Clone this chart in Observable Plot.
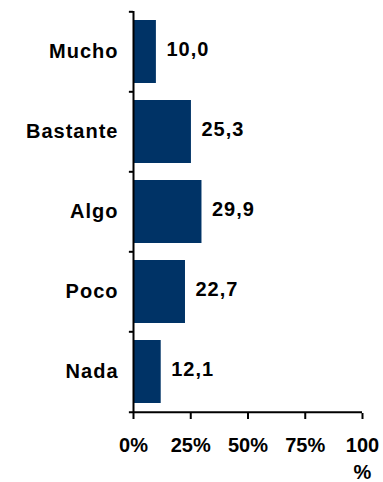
<!DOCTYPE html>
<html><head><meta charset="utf-8">
<script src="https://cdn.jsdelivr.net/npm/d3@7"></script>
<script src="https://cdn.jsdelivr.net/npm/@observablehq/plot@0.6"></script>
<style>body{margin:0;background:#fff}
g[aria-label="y-axis tick label"] text, g[aria-label="text"] text {letter-spacing:1px}
</style>
</head><body><div id="chart"></div>
<script>
const categories = ["Mucho", "Bastante", "Algo", "Poco", "Nada"];
const values = [10.0, 25.3, 29.9, 22.7, 12.1];
const xTicks = [0, 25, 50, 75, 100];
const xTickLabels = ["0%", "25%", "50%", "75%", "100\n%"];

const data = categories.map((c, i) => ({cat: c, value: values[i]}));

const W = 383, H = 482, mTop = 11, mBottom = 69, mLeft = 133, mRight = 21;
const step = (H - mTop - mBottom) / categories.length;
const font = "'Liberation Sans', Arial, Helvetica, sans-serif";

const chart = Plot.plot({
  width: W, height: H,
  marginLeft: mLeft, marginRight: mRight, marginTop: mTop, marginBottom: mBottom,
  style: {fontFamily: font, fontWeight: "bold", fontSize: "20px", color: "#000", background: "#fff", overflow: "visible"},
  x: {domain: [0, 100], label: null},
  y: {domain: categories, paddingInner: 0.21, paddingOuter: 0.105, label: null},
  marks: [
    Plot.barX(data, {x: "value", y: "cat", fill: "#003366"}),
    Plot.text(data, {
      x: "value", y: "cat",
      text: d => d.value.toFixed(1).replace(".", ","),
      textAnchor: "start", dx: 10, dy: -2,
      fontSize: 20, fontWeight: "bold", fill: "#000"
    }),
    Plot.axisY({tickSize: 0, tickPadding: 15, fontSize: 20, fontWeight: "bold", label: null}),
    Plot.ruleX([0], {stroke: "#000", strokeWidth: 2}),
    Plot.ruleY(categories, {y: d => d, x1: -1.8, x2: 0, dy: -step / 2, stroke: "#000", strokeWidth: 2}),
    Plot.ruleY([categories[categories.length - 1]], {y: d => d, x1: -1.8, x2: 100, dy: step / 2, stroke: "#000", strokeWidth: 2}),
    Plot.axisX({
      ticks: xTicks,
      tickFormat: d => xTickLabels[xTicks.indexOf(d)],
      tickSize: 6, tickPadding: 13, strokeWidth: 2,
      fontSize: 20, fontWeight: "bold", lineHeight: 1.35, label: null
    })
  ]
});
document.getElementById("chart").appendChild(chart);
</script>
</body></html>
